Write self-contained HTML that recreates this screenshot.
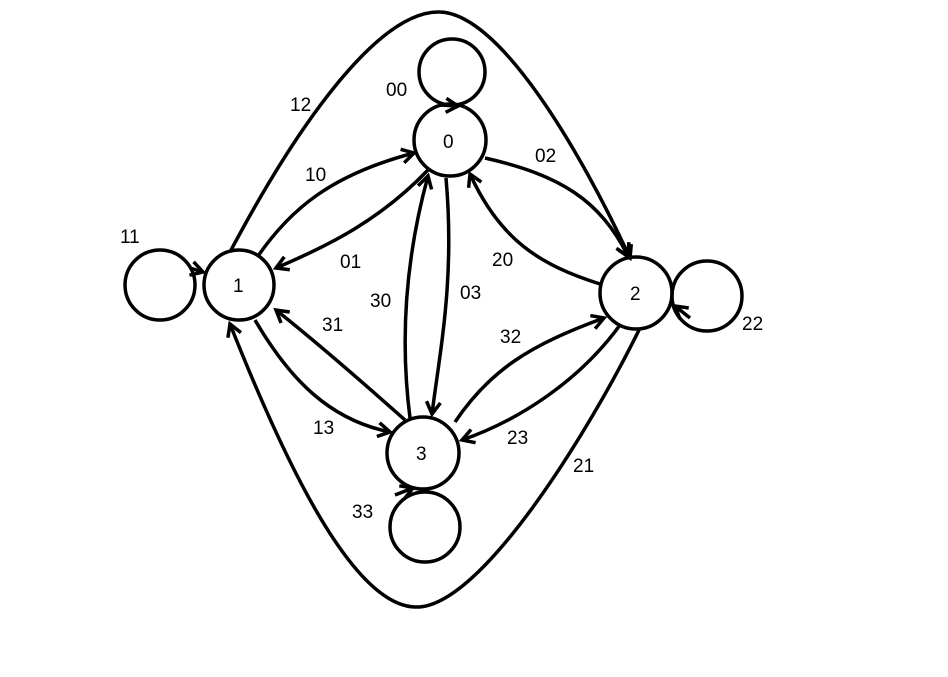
<!DOCTYPE html>
<html><head><style>
html,body{margin:0;padding:0;background:#fff;}
svg{display:block;}
text{font-family:"Liberation Sans",sans-serif;font-size:19px;fill:#000;}
</style></head><body>
<svg width="948" height="677" viewBox="0 0 948 677">
<defs>
<marker id="a" markerWidth="20" markerHeight="20" refX="14" refY="10" orient="auto" markerUnits="userSpaceOnUse">
<polyline points="2,3 14,10 2,17" fill="none" stroke="#000" stroke-width="3.5"/>
</marker>
</defs>
<g fill="none" stroke="#000" stroke-width="3.5">
<circle cx="450" cy="140" r="36"/>
<circle cx="239" cy="285" r="35"/>
<circle cx="636" cy="293" r="36"/>
<circle cx="423" cy="453" r="36"/>
<circle cx="452" cy="72" r="33"/>
<circle cx="160" cy="285" r="35"/>
<circle cx="707" cy="296" r="35"/>
<circle cx="425" cy="527" r="35"/>
<path d="M430,100 L470,106" stroke="none"/>
<path d="M440,105 L458,106" marker-end="url(#a)"/>
<path d="M190,268 L203,272" marker-end="url(#a)"/>
<path d="M690,318 L675,306" marker-end="url(#a)"/>
<path d="M395,495 L413,488" marker-end="url(#a)"/>
<path d="M230,252 C300,120 380,10 440,12 C500,14 580,150 630,258" marker-end="url(#a)"/>
<path d="M640,328 C590,430 480,610 415,607 C350,605 280,450 230,324" marker-end="url(#a)"/>
<path d="M258,256 C290,210 330,175 414,153" marker-end="url(#a)"/>
<path d="M428,170 C380,220 330,245 276,268" marker-end="url(#a)"/>
<path d="M485,158 C560,175 600,200 628,256" marker-end="url(#a)"/>
<path d="M600,284 C540,265 500,240 470,174" marker-end="url(#a)"/>
<path d="M446,178 C455,280 440,350 432,414" marker-end="url(#a)"/>
<path d="M410,418 C400,340 405,260 428,176" marker-end="url(#a)"/>
<path d="M455,422 C490,370 530,345 604,318" marker-end="url(#a)"/>
<path d="M620,325 C580,380 520,420 462,440" marker-end="url(#a)"/>
<path d="M255,320 C290,380 330,420 390,432" marker-end="url(#a)"/>
<path d="M405,420 C360,380 320,345 276,310" marker-end="url(#a)"/>
</g>
<text x="443" y="148">0</text>
<text x="233" y="292">1</text>
<text x="630" y="300">2</text>
<text x="416" y="460">3</text>
<text x="386" y="96">00</text>
<text x="120" y="243">11</text>
<text x="742" y="330">22</text>
<text x="352" y="518">33</text>
<text x="290" y="111">12</text>
<text x="573" y="472">21</text>
<text x="305" y="181">10</text>
<text x="340" y="268">01</text>
<text x="535" y="162">02</text>
<text x="492" y="266">20</text>
<text x="460" y="299">03</text>
<text x="370" y="307">30</text>
<text x="500" y="343">32</text>
<text x="507" y="444">23</text>
<text x="313" y="434">13</text>
<text x="322" y="331">31</text>
</svg>
</body></html>
